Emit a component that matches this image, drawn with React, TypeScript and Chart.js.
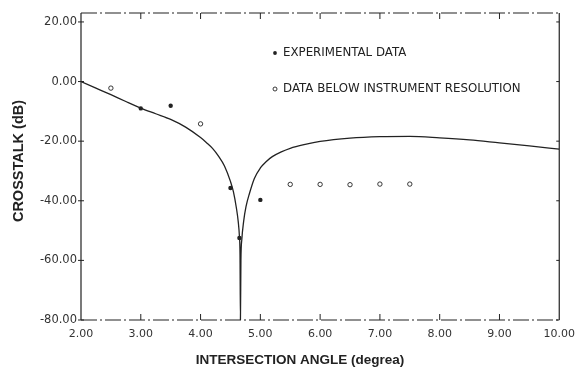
import React, { useEffect, useRef } from "react";
import { Chart, registerables } from "chart.js";
Chart.register(...registerables);

const curveX = [2.0, 2.25, 2.5, 2.75, 3.0, 3.25, 3.5, 3.75, 4.0, 4.1, 4.2, 4.3, 4.4, 4.5, 4.55, 4.6, 4.63, 4.65, 4.66, 4.667, 4.675, 4.69, 4.72, 4.76, 4.82, 4.9, 5.0, 5.1, 5.2, 5.35, 5.5, 5.75, 6.0, 6.5, 7.0, 7.5, 8.0, 8.5, 9.0, 9.5, 10.0];
const curveY = [0, -2.2, -4.4, -6.7, -8.9, -10.8, -12.7, -15.3, -18.8, -20.5, -22.4, -25.0, -28.3, -33.5, -37.0, -42.5, -47.0, -52.0, -58.0, -80.0, -60.0, -53.0, -47.0, -42.0, -37.4, -32.5, -29.0, -26.8, -25.2, -23.6, -22.4, -21.1, -20.1, -19.0, -18.5, -18.4, -18.9, -19.6, -20.6, -21.6, -22.7];

const expX = [3.0, 3.5, 4.5, 4.65, 5.0];
const expY = [-9.0, -8.1, -35.7, -52.5, -39.7];

const belowX = [2.5, 4.0, 5.5, 6.0, 6.5, 7.0, 7.5];
const belowY = [-2.2, -14.2, -34.5, -34.5, -34.6, -34.4, -34.4];

const xTicks = [2, 3, 4, 5, 6, 7, 8, 9, 10];
const yTicks = [-80, -60, -40, -20, 0, 20];

const legendLabels = ["EXPERIMENTAL DATA", "DATA BELOW INSTRUMENT RESOLUTION"];
const xTitle = "INTERSECTION ANGLE (degrea)";
const yTitle = "CROSSTALK (dB)";

const INK = "#222";

const decorPlugin = {
  id: "decor",
  afterDraw(chart: any) {
    const { ctx, chartArea: a, scales } = chart;
    const xs = scales.x;
    const ys = scales.y;
    ctx.save();
    ctx.strokeStyle = INK;
    ctx.lineWidth = 1.2;
    ctx.setLineDash([]);
    ctx.beginPath();
    ctx.moveTo(a.left, a.top);
    ctx.lineTo(a.left, a.bottom);
    ctx.moveTo(a.right, a.top);
    ctx.lineTo(a.right, a.bottom);
    ctx.stroke();
    ctx.setLineDash([16, 3, 2, 3]);
    ctx.beginPath();
    ctx.moveTo(a.left, a.top);
    ctx.lineTo(a.right, a.top);
    ctx.moveTo(a.left, a.bottom);
    ctx.lineTo(a.right, a.bottom);
    ctx.stroke();
    ctx.setLineDash([]);
    ctx.lineWidth = 1;
    xTicks.slice(1, -1).forEach((v) => {
      const px = xs.getPixelForValue(v);
      ctx.beginPath();
      ctx.moveTo(px, a.top);
      ctx.lineTo(px, a.top + 6);
      ctx.moveTo(px, a.bottom);
      ctx.lineTo(px, a.bottom - 6);
      ctx.stroke();
    });
    yTicks.forEach((v) => {
      const py = ys.getPixelForValue(v);
      ctx.beginPath();
      ctx.moveTo(a.left - 3, py);
      ctx.lineTo(a.left + 3, py);
      ctx.moveTo(a.right - 3, py);
      ctx.lineTo(a.right, py);
      ctx.stroke();
    });
    // legend
    ctx.fillStyle = INK;
    ctx.font = "11.8px 'DejaVu Sans', sans-serif";
    ctx.textBaseline = "middle";
    ctx.textAlign = "left";
    const lx = 275;
    const ly1 = 53;
    const ly2 = 89;
    ctx.beginPath();
    ctx.arc(lx, ly1, 1.9, 0, Math.PI * 2);
    ctx.fill();
    ctx.beginPath();
    ctx.arc(lx, ly2, 2, 0, Math.PI * 2);
    ctx.lineWidth = 0.9;
    ctx.stroke();
    ctx.fillText(legendLabels[0], 283, ly1);
    ctx.fillText(legendLabels[1], 283, ly2);
    // axis titles
    ctx.font = "bold 13.5px 'Liberation Sans', Arial, sans-serif";
    ctx.textAlign = "center";
    ctx.fillText(xTitle, 300, 360);
    ctx.save();
    ctx.translate(19, 161);
    ctx.rotate(-Math.PI / 2);
    ctx.font = "bold 14.5px 'Liberation Sans', Arial, sans-serif";
    ctx.fillText(yTitle, 0, 0);
    ctx.restore();
    ctx.restore();
  },
};

export default function App() {
  const ref = useRef<HTMLCanvasElement>(null);
  useEffect(() => {
    if (!ref.current) return;
    const chart = new Chart(ref.current, {
      type: "scatter",
      data: {
        datasets: [
          {
            type: "line",
            data: curveX.map((x, i) => ({ x, y: curveY[i] })),
            borderColor: INK,
            borderWidth: 1.3,
            pointRadius: 0,
            cubicInterpolationMode: "monotone",
            fill: false,
          } as any,
          {
            data: expX.map((x, i) => ({ x, y: expY[i] })),
            backgroundColor: INK,
            borderColor: INK,
            pointRadius: 2.2,
            borderWidth: 0,
          },
          {
            data: belowX.map((x, i) => ({ x, y: belowY[i] })),
            backgroundColor: "#fff",
            borderColor: INK,
            pointRadius: 2.2,
            borderWidth: 0.9,
          },
        ],
      },
      options: {
        animation: false,
        responsive: false,
        maintainAspectRatio: false,
        layout: { padding: { top: 13, right: 22, left: 0, bottom: 0 } },
        plugins: { legend: { display: false }, tooltip: { enabled: false } },
        scales: {
          x: {
            type: "linear",
            min: 2,
            max: 10,
            grid: { display: false, drawTicks: false },
            border: { display: false },
            afterBuildTicks: (s: any) => {
              s.ticks = xTicks.map((v) => ({ value: v }));
            },
            afterFit: (s: any) => {
              s.height = 48;
            },
            ticks: {
              color: "#333",
              padding: 8,
              font: { family: "'DejaVu Sans', sans-serif", size: 11 },
              callback: (v: any) => Number(v).toFixed(2),
            },
          },
          y: {
            type: "linear",
            min: -80,
            max: 23,
            grid: { display: false, drawTicks: false },
            border: { display: false },
            afterBuildTicks: (s: any) => {
              s.ticks = yTicks.map((v) => ({ value: v }));
            },
            afterFit: (s: any) => {
              s.width = 81;
            },
            ticks: {
              color: "#333",
              padding: 4,
              font: { family: "'DejaVu Sans', sans-serif", size: 11.5 },
              callback: (v: any) => Number(v).toFixed(2),
            },
          },
        },
      },
      plugins: [decorPlugin],
    });
    return () => chart.destroy();
  }, []);
  return (
    <div style={{ position: "fixed", left: 0, top: 0, width: 583, height: 368, background: "#fff" }}>
      <canvas ref={ref} width={583} height={368} style={{ width: 583, height: 368 }} />
    </div>
  );
}
